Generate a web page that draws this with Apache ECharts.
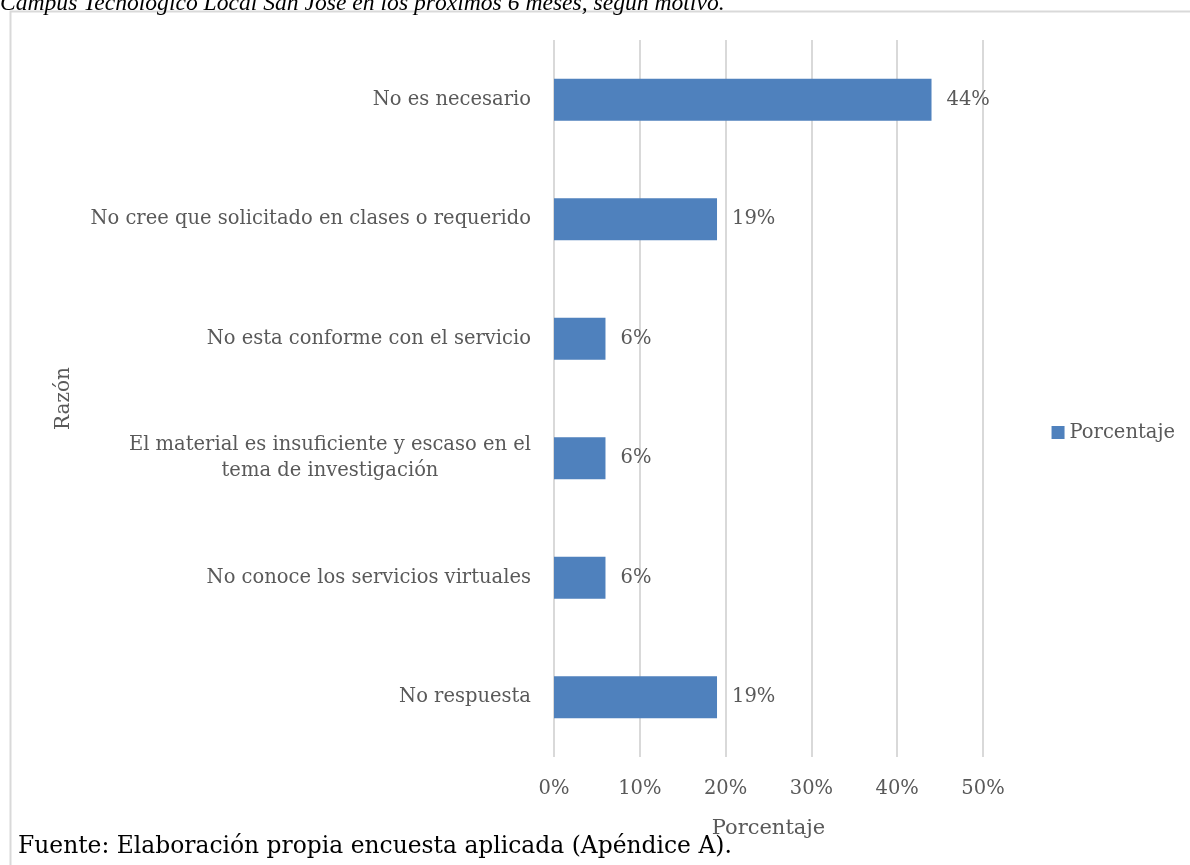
<!DOCTYPE html>
<html>
<head>
<meta charset="utf-8">
<script src="https://cdn.jsdelivr.net/npm/echarts@6/dist/echarts.min.js"></script>
<style>
  html, body { margin: 0; padding: 0; background: #ffffff; }
  #chart { width: 1190px; height: 865px; }
</style>
</head>
<body>
<div id="chart"></div>
<script>
// Reasons for not using the library's virtual services (bottom to top as drawn)
const categories = [
  'No respuesta',
  'No conoce los servicios virtuales',
  'El material es insuficiente y escaso en el\ntema de investigación',
  'No esta conforme con el servicio',
  'No cree que solicitado en clases o requerido',
  'No es necesario'
];
const percentages = [19, 6, 6, 6, 19, 44];
const xTicks = [0, 10, 20, 30, 40, 50];

const seriesName = 'Porcentaje';
const xAxisName = 'Porcentaje';
const yAxisName = 'Razón';
const captionTop = 'Campus Tecnológico Local San José en los próximos 6 meses, según motivo.';
const captionBottom = 'Fuente: Elaboración propia encuesta aplicada (Apéndice A).';

const SERIF = '"DejaVu Serif", serif';
const GREY = '#595959';
const FS = 19.5;

const chart = echarts.init(document.getElementById('chart'), null, { renderer: 'canvas' });

chart.setOption({
  backgroundColor: '#ffffff',
  animation: false,
  graphic: [
    {
      type: 'rect',
      shape: { x: 10.5, y: 11.5, width: 1200, height: 900 },
      style: { fill: 'none', stroke: '#d9d9d9', lineWidth: 2 },
      z: -1
    },
    {
      type: 'text',
      left: 0, top: -8,
      style: {
        text: captionTop,
        font: 'italic 23.6px "Liberation Serif", "Times New Roman", serif',
        fill: '#000000'
      }
    },
    {
      type: 'text',
      left: 18, top: 835,
      style: {
        text: captionBottom,
        font: '23.4px ' + SERIF,
        fill: '#000000'
      }
    }
  ],
  grid: { left: 554, right: 207, top: 40, bottom: 108, containLabel: false },
  legend: {
    data: [seriesName],
    right: 10, top: 'middle',
    itemWidth: 13, itemHeight: 13, itemGap: 7,
    icon: 'rect',
    textStyle: { fontFamily: SERIF, fontSize: FS, color: GREY }
  },
  xAxis: {
    type: 'value',
    min: 0, max: 50, interval: 10,
    name: xAxisName,
    nameLocation: 'middle',
    nameGap: 61,
    nameTextStyle: { fontFamily: SERIF, fontSize: 21, color: GREY },
    axisLine: { show: false },
    axisTick: { show: false },
    axisLabel: {
      margin: 22,
      fontFamily: SERIF, fontSize: FS, color: GREY,
      formatter: v => xTicks.includes(v) ? v + '%' : ''
    },
    splitLine: { show: true, lineStyle: { color: '#d9d9d9', width: 2 } }
  },
  yAxis: {
    type: 'category',
    data: categories,
    name: yAxisName,
    nameLocation: 'middle',
    nameGap: 480,
    nameRotate: 90,
    nameTextStyle: { fontFamily: SERIF, fontSize: 20, color: GREY },
    axisLine: { show: false },
    axisTick: { show: false },
    axisLabel: {
      margin: 23,
      fontFamily: SERIF, fontSize: FS, color: GREY,
      lineHeight: 26,
      formatter: v => v.split('\n').map(l => '{c|' + l + '}').join('\n'),
      rich: { c: { align: 'center', fontFamily: SERIF, fontSize: FS, color: GREY, lineHeight: 26 } }
    }
  },
  series: [
    {
      name: seriesName,
      type: 'bar',
      data: percentages,
      barWidth: '35%',
      itemStyle: { color: '#4f81bd' },
      label: {
        show: true,
        position: 'right',
        distance: 15,
        fontFamily: SERIF, fontSize: FS, color: GREY,
        formatter: p => p.value + '%'
      }
    }
  ]
});
</script>
</body>
</html>
